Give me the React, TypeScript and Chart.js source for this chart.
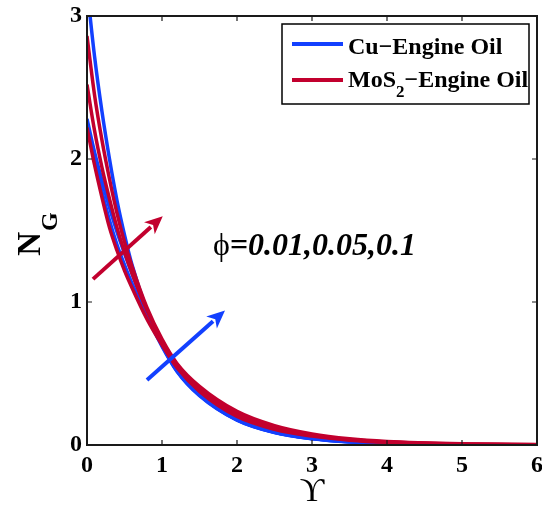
import React, { useEffect, useRef } from "react";
import { Chart, registerables } from "chart.js";

Chart.register(...registerables);

// Υ (x) sample positions
const upsilon = [0, 0.1, 0.2, 0.3, 0.4, 0.5, 0.6, 0.8, 1.0, 1.2, 1.5, 2, 2.5, 3, 3.5, 4, 5, 6];

// Cu–Engine Oil curves (blue)
const cuCurveA = [3.2, 2.72, 2.33, 2.0, 1.71, 1.47, 1.26, 0.94, 0.7, 0.52, 0.35, 0.175, 0.088, 0.045, 0.022, 0.01, 0.002, 0.0005];
const cuCurveB = [2.28, 2.05, 1.85, 1.66, 1.49, 1.34, 1.2, 0.93, 0.7, 0.52, 0.35, 0.177, 0.089, 0.045, 0.022, 0.01, 0.002, 0.0005];
const cuCurveC = [2.25, 1.99, 1.77, 1.57, 1.4, 1.26, 1.13, 0.9, 0.69, 0.515, 0.345, 0.174, 0.087, 0.044, 0.021, 0.01, 0.002, 0.0005];

// MoS2–Engine Oil curves (red)
const mosCurveA = [2.86, 2.45, 2.13, 1.86, 1.62, 1.42, 1.25, 0.96, 0.74, 0.57, 0.41, 0.235, 0.135, 0.077, 0.043, 0.024, 0.008, 0.003];
const mosCurveB = [2.52, 2.2, 1.94, 1.72, 1.52, 1.35, 1.2, 0.94, 0.73, 0.56, 0.395, 0.215, 0.12, 0.068, 0.038, 0.021, 0.007, 0.002];
const mosCurveC = [2.22, 1.96, 1.73, 1.52, 1.36, 1.22, 1.1, 0.88, 0.7, 0.54, 0.375, 0.2, 0.11, 0.062, 0.034, 0.019, 0.006, 0.002];

const xTickValues = [0, 1, 2, 3, 4, 5, 6];
const yTickValues = [0, 1, 2, 3];

const cuLabel = "Cu\u2212Engine Oil";
const mosLabelMain = "MoS";
const mosLabelSub = "2";
const mosLabelTail = "\u2212Engine Oil";
const phiSymbol = "\u03D5";
const phiValues = "=0.01,0.05,0.1";
const xTitle = "\u03D2";
const yTitleMain = "N";
const yTitleSub = "G";

// annotation anchors in data coordinates
const redArrowFrom = [0.08, 1.16];
const redArrowTo = [1.01, 1.6];
const blueArrowFrom = [0.8, 0.455];
const blueArrowTo = [1.84, 0.94];
const phiAnchor = [1.68, 1.33];

const BLUE = "#1240FF";
const RED = "#C2002E";
const SERIF = "'Liberation Serif', 'Times New Roman', 'DejaVu Serif', serif";

function toPoints(ys: number[]) {
  return upsilon.map((x, i) => ({ x, y: ys[i] }));
}

function drawArrow(ctx: CanvasRenderingContext2D, x1: number, y1: number, x2: number, y2: number, color: string) {
  const ang = Math.atan2(y2 - y1, x2 - x1);
  const headLen = 18;
  const headHalf = 8;
  const bx = x2 - headLen * Math.cos(ang);
  const by = y2 - headLen * Math.sin(ang);
  ctx.save();
  ctx.strokeStyle = color;
  ctx.fillStyle = color;
  ctx.lineWidth = 4;
  ctx.lineCap = "butt";
  ctx.beginPath();
  ctx.moveTo(x1, y1);
  ctx.lineTo(bx + 2 * Math.cos(ang), by + 2 * Math.sin(ang));
  ctx.stroke();
  ctx.beginPath();
  ctx.moveTo(x2, y2);
  ctx.lineTo(bx + headHalf * Math.sin(ang), by - headHalf * Math.cos(ang));
  ctx.lineTo(bx + 5 * Math.cos(ang), by + 5 * Math.sin(ang));
  ctx.lineTo(bx - headHalf * Math.sin(ang), by + headHalf * Math.cos(ang));
  ctx.closePath();
  ctx.fill();
  ctx.restore();
}

const overlayPlugin = {
  id: "overlay",
  afterDatasetsDraw(chart: any) {
    const { ctx, chartArea: a, scales } = chart;
    const xs = scales.x;
    const ys = scales.y;
    ctx.save();

    // frame
    ctx.strokeStyle = "#1a1a1a";
    ctx.lineWidth = 2;
    ctx.strokeRect(a.left, a.top, a.right - a.left, a.bottom - a.top);

    // inner tick marks
    const tl = 5;
    ctx.lineWidth = 1.2;
    ctx.beginPath();
    for (const v of xTickValues) {
      const px = xs.getPixelForValue(v);
      ctx.moveTo(px, a.bottom);
      ctx.lineTo(px, a.bottom - tl);
      ctx.moveTo(px, a.top);
      ctx.lineTo(px, a.top + tl);
    }
    for (const v of yTickValues) {
      const py = ys.getPixelForValue(v);
      ctx.moveTo(a.left, py);
      ctx.lineTo(a.left + tl, py);
      ctx.moveTo(a.right, py);
      ctx.lineTo(a.right - tl, py);
    }
    ctx.stroke();

    // arrows
    drawArrow(
      ctx,
      xs.getPixelForValue(redArrowFrom[0]),
      ys.getPixelForValue(redArrowFrom[1]),
      xs.getPixelForValue(redArrowTo[0]),
      ys.getPixelForValue(redArrowTo[1]),
      RED
    );
    drawArrow(
      ctx,
      xs.getPixelForValue(blueArrowFrom[0]),
      ys.getPixelForValue(blueArrowFrom[1]),
      xs.getPixelForValue(blueArrowTo[0]),
      ys.getPixelForValue(blueArrowTo[1]),
      BLUE
    );

    // phi annotation
    const phx = xs.getPixelForValue(phiAnchor[0]);
    const phy = ys.getPixelForValue(phiAnchor[1]);
    ctx.fillStyle = "#000";
    ctx.textBaseline = "alphabetic";
    ctx.textAlign = "left";
    ctx.font = `32px ${SERIF}`;
    ctx.fillText(phiSymbol, phx, phy);
    const pw = ctx.measureText(phiSymbol).width;
    ctx.font = `italic bold 32px ${SERIF}`;
    ctx.fillText(phiValues, phx + pw, phy);

    // legend
    const bw = 247;
    const bh = 80;
    const bl = a.right - 255;
    const bt = a.top + 8;
    ctx.fillStyle = "#fff";
    ctx.fillRect(bl, bt, bw, bh);
    ctx.strokeStyle = "#000";
    ctx.lineWidth = 1.5;
    ctx.strokeRect(bl, bt, bw, bh);
    ctx.lineWidth = 4;
    ctx.strokeStyle = BLUE;
    ctx.beginPath();
    ctx.moveTo(bl + 10, bt + 20);
    ctx.lineTo(bl + 61, bt + 20);
    ctx.stroke();
    ctx.strokeStyle = RED;
    ctx.beginPath();
    ctx.moveTo(bl + 10, bt + 56);
    ctx.lineTo(bl + 61, bt + 56);
    ctx.stroke();
    ctx.fillStyle = "#000";
    ctx.font = `bold 24px ${SERIF}`;
    ctx.fillText(cuLabel, bl + 66, bt + 30);
    ctx.fillText(mosLabelMain, bl + 66, bt + 63);
    let tx = bl + 66 + ctx.measureText(mosLabelMain).width;
    ctx.font = `bold 17px ${SERIF}`;
    ctx.fillText(mosLabelSub, tx, bt + 73);
    tx += ctx.measureText(mosLabelSub).width;
    ctx.font = `bold 24px ${SERIF}`;
    ctx.fillText(mosLabelTail, tx, bt + 63);

    // y title (rotated)
    ctx.font = `bold 33px ${SERIF}`;
    const wN = ctx.measureText(yTitleMain).width;
    ctx.font = `bold 24px ${SERIF}`;
    const wG = ctx.measureText(yTitleSub).width;
    const cy = (a.top + a.bottom) / 2 + 4;
    ctx.translate(a.left - 47, cy + (wN + wG) / 2);
    ctx.rotate(-Math.PI / 2);
    ctx.font = `bold 33px ${SERIF}`;
    ctx.fillText(yTitleMain, 0, 0);
    ctx.font = `bold 24px ${SERIF}`;
    ctx.fillText(yTitleSub, wN + 1, 17);

    ctx.restore();
  },
};

export default function App() {
  const canvasRef = useRef<HTMLCanvasElement | null>(null);

  useEffect(() => {
    if (!canvasRef.current) return;
    const line = (data: number[], color: string, order: number) => ({
      data: toPoints(data),
      borderColor: color,
      backgroundColor: color,
      borderWidth: 3.5,
      pointRadius: 0,
      cubicInterpolationMode: "monotone" as const,
      fill: false,
      order,
    });
    const chart = new Chart(canvasRef.current, {
      type: "line",
      data: {
        datasets: [
          { label: cuLabel, ...line(cuCurveA, BLUE, 1) },
          { label: cuLabel, ...line(cuCurveB, BLUE, 1) },
          { label: cuLabel, ...line(cuCurveC, BLUE, 1) },
          { label: "MoS2", ...line(mosCurveA, RED, 0) },
          { label: "MoS2", ...line(mosCurveB, RED, 0) },
          { label: "MoS2", ...line(mosCurveC, RED, 0) },
        ],
      },
      options: {
        animation: false,
        responsive: true,
        maintainAspectRatio: false,
        layout: { padding: { left: 0, right: 5, top: 16, bottom: 0 } },
        plugins: {
          legend: { display: false },
          tooltip: { enabled: false },
        },
        scales: {
          x: {
            type: "linear",
            min: 0,
            max: 6,
            afterBuildTicks: (s: any) => {
              s.ticks = xTickValues.map((v) => ({ value: v }));
            },
            ticks: {
              color: "#000",
              padding: 6,
              font: { family: SERIF, size: 24, weight: "bold" },
              maxRotation: 0,
            },
            grid: { display: false, drawTicks: false },
            border: { display: false },
            title: {
              display: true,
              text: xTitle,
              color: "#000",
              font: { family: SERIF, size: 34 },
              padding: { top: 0, bottom: 0 },
            },
            afterFit: (s: any) => {
              s.height = 67;
              s.paddingLeft = 0;
              s.paddingRight = 0;
            },
          },
          y: {
            type: "linear",
            min: 0,
            max: 3,
            afterBuildTicks: (s: any) => {
              s.ticks = yTickValues.map((v) => ({ value: v }));
            },
            ticks: {
              color: "#000",
              padding: 5,
              font: { family: SERIF, size: 24, weight: "bold" },
            },
            grid: { display: false, drawTicks: false },
            border: { display: false },
            afterFit: (s: any) => {
              s.width = 87;
              s.paddingTop = 0;
              s.paddingBottom = 0;
            },
          },
        },
      },
      plugins: [overlayPlugin],
    } as any);
    return () => chart.destroy();
  }, []);

  return (
    <div style={{ position: "fixed", left: 0, top: 0, width: 542, height: 512, background: "#fff" }}>
      <canvas ref={canvasRef} />
    </div>
  );
}
